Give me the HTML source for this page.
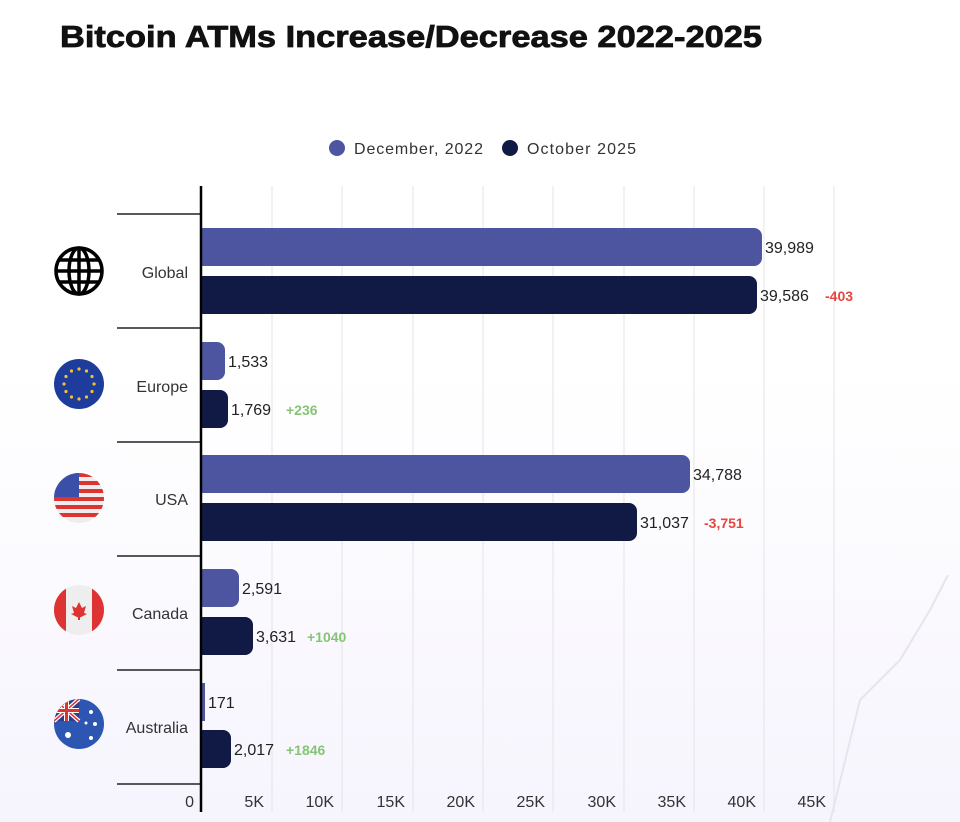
<!DOCTYPE html>
<html><head><meta charset="utf-8"><style>
body{margin:0;width:960px;height:822px;overflow:hidden;font-family:"Liberation Sans",sans-serif;background:linear-gradient(180deg,#fff 0%,#fff 45%,#f6f4fd 100%);position:relative}
</style></head><body>
<svg width="960" height="822" style="position:absolute;left:0;top:0" font-family="Liberation Sans, sans-serif">
<defs>
<clipPath id="c2"><circle cx="79" cy="498" r="25"/></clipPath>
<clipPath id="c3"><circle cx="79" cy="610" r="25"/></clipPath>
<clipPath id="c4"><circle cx="79" cy="724" r="25"/></clipPath>
</defs>
<polyline points="830,822 860,700 900,660 930,610 948,575" fill="none" stroke="#e6e4ef" stroke-width="2"/>
<text x="60" y="47" font-size="31" font-weight="bold" fill="#111" textLength="702" lengthAdjust="spacingAndGlyphs" stroke="#111" stroke-width="0.8">Bitcoin ATMs Increase/Decrease 2022-2025</text>
<circle cx="337" cy="148" r="8" fill="#4e55a0"/>
<text x="354" y="154" font-size="16" fill="#333" textLength="129">December, 2022</text>
<circle cx="510" cy="148" r="8" fill="#111a45"/>
<text x="527" y="154" font-size="16" fill="#333" textLength="109">October 2025</text>
<g stroke="#e4e4e8" stroke-width="1">
<line x1="272" y1="186" x2="272" y2="812"/><line x1="342" y1="186" x2="342" y2="812"/><line x1="413" y1="186" x2="413" y2="812"/><line x1="483" y1="186" x2="483" y2="812"/><line x1="553" y1="186" x2="553" y2="812"/><line x1="624" y1="186" x2="624" y2="812"/><line x1="694" y1="186" x2="694" y2="812"/><line x1="764" y1="186" x2="764" y2="812"/><line x1="834" y1="186" x2="834" y2="812"/>
</g>
<g stroke="#222" stroke-width="1.5">
<line x1="117" y1="214" x2="201" y2="214"/><line x1="117" y1="328" x2="201" y2="328"/><line x1="117" y1="442" x2="201" y2="442"/><line x1="117" y1="556" x2="201" y2="556"/><line x1="117" y1="670" x2="201" y2="670"/><line x1="117" y1="784" x2="201" y2="784"/>
</g>
<g>
<path d="M201 228H754a8 8 0 0 1 8 8v22a8 8 0 0 1-8 8H201z" fill="#4e55a0"/>
<path d="M201 276H749a8 8 0 0 1 8 8v22a8 8 0 0 1-8 8H201z" fill="#111a45"/>
<path d="M201 342H217a8 8 0 0 1 8 8v22a8 8 0 0 1-8 8H201z" fill="#4e55a0"/>
<path d="M201 390H220a8 8 0 0 1 8 8v22a8 8 0 0 1-8 8H201z" fill="#111a45"/>
<path d="M201 455H682a8 8 0 0 1 8 8v22a8 8 0 0 1-8 8H201z" fill="#4e55a0"/>
<path d="M201 503H629a8 8 0 0 1 8 8v22a8 8 0 0 1-8 8H201z" fill="#111a45"/>
<path d="M201 569H231a8 8 0 0 1 8 8v22a8 8 0 0 1-8 8H201z" fill="#4e55a0"/>
<path d="M201 617H245a8 8 0 0 1 8 8v22a8 8 0 0 1-8 8H201z" fill="#111a45"/>
<rect x="201" y="683" width="4" height="38" fill="#4e55a0"/>
<path d="M201 730H223a8 8 0 0 1 8 8v22a8 8 0 0 1-8 8H201z" fill="#111a45"/>
</g>
<line x1="201" y1="186" x2="201" y2="812" stroke="#000" stroke-width="2.5"/>
<g font-size="16" fill="#222">
<text x="765" y="253">39,989</text><text x="760" y="301">39,586</text>
<text x="228" y="367">1,533</text><text x="231" y="415">1,769</text>
<text x="693" y="480">34,788</text><text x="640" y="528">31,037</text>
<text x="242" y="594">2,591</text><text x="256" y="642">3,631</text>
<text x="208" y="708">171</text><text x="234" y="755">2,017</text>
</g>
<g font-size="14" font-weight="bold">
<text x="825" y="301" fill="#e8453c">-403</text>
<text x="286" y="415" fill="#86c475">+236</text>
<text x="704" y="528" fill="#e8453c">-3,751</text>
<text x="307" y="642" fill="#86c475">+1040</text>
<text x="286" y="755" fill="#86c475">+1846</text>
</g>
<g font-size="16" fill="#333" text-anchor="end">
<text x="188" y="278">Global</text><text x="188" y="392">Europe</text><text x="188" y="505">USA</text><text x="188" y="619">Canada</text><text x="188" y="733">Australia</text>
</g>
<g font-size="16" fill="#333" text-anchor="end">
<text x="194" y="807">0</text><text x="264" y="807">5K</text><text x="334" y="807">10K</text><text x="405" y="807">15K</text><text x="475" y="807">20K</text><text x="545" y="807">25K</text><text x="616" y="807">30K</text><text x="686" y="807">35K</text><text x="756" y="807">40K</text><text x="826" y="807">45K</text>
</g>
<g fill="none" stroke="#000" stroke-width="3.5">
<circle cx="79" cy="271" r="23"/><ellipse cx="79" cy="271" rx="10" ry="23"/><line x1="79" y1="248" x2="79" y2="294"/><line x1="56" y1="271" x2="102" y2="271"/><line x1="59" y1="260" x2="99" y2="260"/><line x1="59" y1="282" x2="99" y2="282"/>
</g>
<circle cx="79" cy="384" r="25" fill="#1e3c9c"/>
<g fill="#f2c230"><circle cx="79" cy="369" r="1.6"/><circle cx="86.5" cy="371" r="1.6"/><circle cx="92" cy="376.5" r="1.6"/><circle cx="94" cy="384" r="1.6"/><circle cx="92" cy="391.5" r="1.6"/><circle cx="86.5" cy="397" r="1.6"/><circle cx="79" cy="399" r="1.6"/><circle cx="71.5" cy="397" r="1.6"/><circle cx="66" cy="391.5" r="1.6"/><circle cx="64" cy="384" r="1.6"/><circle cx="66" cy="376.5" r="1.6"/><circle cx="71.5" cy="371" r="1.6"/></g>
<g clip-path="url(#c2)"><rect x="54" y="473" width="50" height="50" fill="#eee"/>
<rect x="54" y="473" width="50" height="4" fill="#d33"/><rect x="54" y="481" width="50" height="4" fill="#d33"/><rect x="54" y="489" width="50" height="4" fill="#d33"/><rect x="54" y="497" width="50" height="4" fill="#d33"/><rect x="54" y="505" width="50" height="4" fill="#d33"/><rect x="54" y="513" width="50" height="4" fill="#d33"/>
<rect x="54" y="473" width="25" height="24" fill="#3a4fa8"/></g>
<g clip-path="url(#c3)"><rect x="54" y="585" width="50" height="50" fill="#eee"/><rect x="54" y="585" width="12" height="50" fill="#d33"/><rect x="92" y="585" width="12" height="50" fill="#d33"/><path d="M79 602l3 6 4-2-2 7 3 1-8 4-8-4 3-1-2-7 4 2z" fill="#d33"/><rect x="78" y="615" width="2" height="5" fill="#d33"/></g>
<g clip-path="url(#c4)"><rect x="54" y="699" width="50" height="50" fill="#2d56b3"/><rect x="54" y="699" width="25" height="22" fill="#2d3f8c"/><path d="M54 699L79 721M79 699L54 721" stroke="#fff" stroke-width="4"/><path d="M54 699L79 721M79 699L54 721" stroke="#d33" stroke-width="1.5"/><rect x="64" y="699" width="5" height="22" fill="#fff"/><rect x="54" y="708" width="25" height="5" fill="#fff"/><rect x="65" y="699" width="3" height="22" fill="#d33"/><rect x="54" y="709" width="25" height="3" fill="#d33"/><g fill="#fff"><circle cx="68" cy="735" r="3"/><circle cx="91" cy="712" r="2"/><circle cx="95" cy="724" r="2"/><circle cx="86" cy="723" r="1.5"/><circle cx="91" cy="738" r="2"/></g></g>
</svg>
</body></html>
